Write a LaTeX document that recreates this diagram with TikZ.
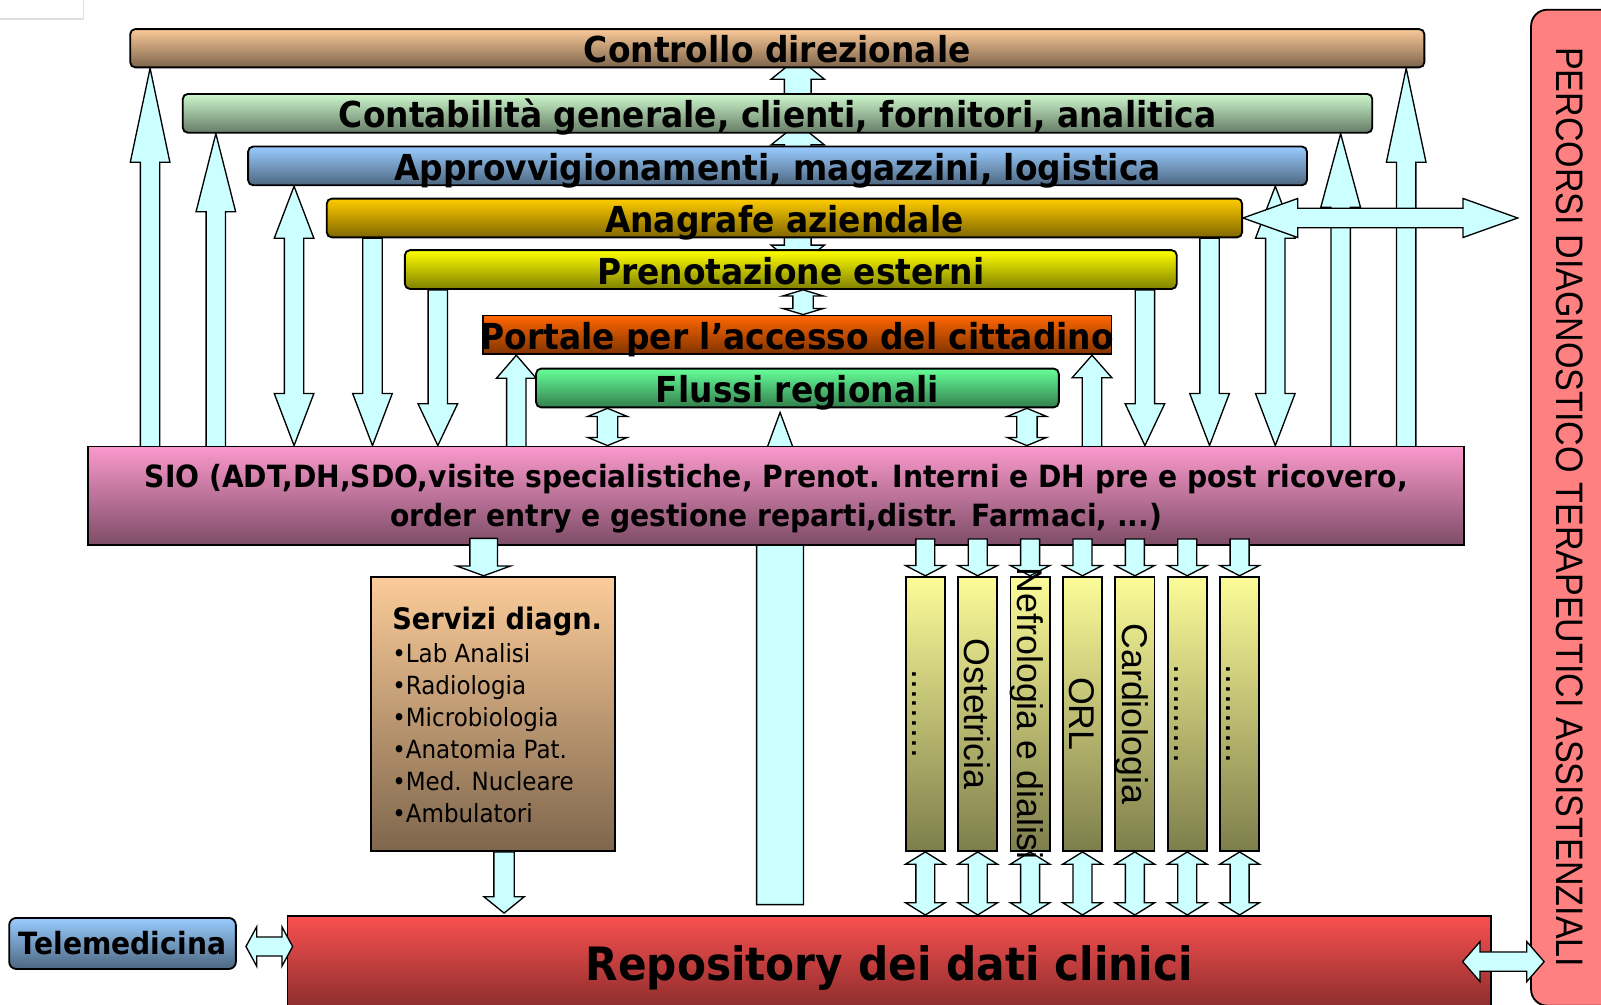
\documentclass[tikz,border=0pt]{standalone}
\usepackage{fontspec}
\usetikzlibrary{calc}
\newfontfamily\dvs[FakeStretch=0.92]{DejaVu Sans}
\newfontfamily\arl{Liberation Sans}
\newfontfamily\arlc[FakeStretch=0.89]{Liberation Sans}
\newcommand\fsz[1]{\fontsize{#1}{#1}\selectfont}

\definecolor{cCtrl}{RGB}{250,201,152}
\definecolor{cConta}{RGB}{204,247,204}
\definecolor{cAppr}{RGB}{153,204,255}
\definecolor{cAnag}{RGB}{255,204,0}
\definecolor{cPren}{RGB}{255,255,0}
\definecolor{cPort}{RGB}{255,102,0}
\definecolor{cFluss}{RGB}{102,255,153}
\definecolor{cSio}{RGB}{250,153,204}
\definecolor{cServ}{RGB}{252,204,153}
\definecolor{cStrip}{RGB}{252,252,153}
\definecolor{cRepo}{RGB}{250,80,80}
\definecolor{cTele}{RGB}{153,204,255}
\definecolor{cPerc}{RGB}{255,128,128}
\definecolor{cArr}{RGB}{204,255,255}

\pgfdeclarelayer{background}
\pgfsetlayers{background,main}

% block arrow with one head: tail, tip, shaft half-width, head half-width, head length
\newcommand\onearrow[5]{%
  \draw[blockarrow] let \p1=(#1), \p2=(#2),
    \n1={veclen(\x2-\x1,\y2-\y1)}, \n2={atan2(\y2-\y1,\x2-\x1)} in
    {[shift={(\p1)}, rotate=\n2]
      (0,-#3) -- ({\n1-#5},-#3) -- ({\n1-#5},-#4) -- (\n1,0) --
      ({\n1-#5},#4) -- ({\n1-#5},#3) -- (0,#3) -- cycle};}
% block arrow with a head at both ends
\newcommand\twoarrow[5]{%
  \draw[blockarrow] let \p1=(#1), \p2=(#2),
    \n1={veclen(\x2-\x1,\y2-\y1)}, \n2={atan2(\y2-\y1,\x2-\x1)} in
    {[shift={(\p1)}, rotate=\n2]
      (0,0) -- (#5,#4) -- (#5,#3) -- ({\n1-#5},#3) -- ({\n1-#5},#4) -- (\n1,0) --
      ({\n1-#5},-#4) -- ({\n1-#5},-#3) -- (#5,-#3) -- (#5,-#4) -- cycle};}

\begin{document}
\begin{tikzpicture}[x=1pt,y=-1pt,
  grad/.style={top color=#1, bottom color=#1!50!black},
  box/.style={draw=black, line width=1.8pt, inner sep=0pt},
  bar/.style={box, rounded corners=5pt, minimum height=38pt,
    text height=28.5pt, text depth=0pt, font=\dvs\bfseries\fsz{35}},
  strip/.style={box, grad=cStrip, minimum width=38.5pt, minimum height=268.7pt},
  striptext/.style={rotate=-90, inner sep=0pt, font=\arl\fsz{35},
    text height=25pt, text depth=0pt},
  blockarrow/.style={draw=black, fill=cArr, line width=1.3pt, line join=miter}]

\useasboundingbox (0,0) rectangle (1568,984);
\clip (0,0) rectangle (1568,984);

\draw[black!12, line width=1.2pt] (0,18.6) -- (81.6,18.6) -- (81.6,0);

% side band
\node[box, rounded corners=16pt, fill=cPerc, minimum width=120.5pt,
  minimum height=975.5pt] (perc) at (1559.75,497.25) {};

% stacked application bars
\node[bar, grad=cCtrl, minimum width=1267.5pt, minimum height=37.5pt] (ctrl)
  at (761.25,47.25) {Controllo direzionale};
\node[bar, grad=cConta, minimum width=1165pt] (conta)
  at (761.5,111) {Contabilità generale, clienti, fornitori, analitica};
\node[bar, grad=cAppr, minimum width=1037pt] (appr)
  at (761.5,162.5) {Approvvigionamenti, magazzini, logistica};
\node[bar, grad=cAnag, minimum width=896.5pt] (anag)
  at (768.25,213.5) {Anagrafe aziendale};
\node[bar, grad=cPren, minimum width=756pt] (pren)
  at (774.5,264) {Prenotazione esterni};
\node[bar, rounded corners=0pt, grad=cPort, minimum width=615.5pt] (port)
  at (780.75,328) {\makebox[0pt]{Portale per l’accesso del cittadino}};
\node[bar, grad=cFluss, minimum width=512pt] (fluss)
  at (781,380) {Flussi regionali};

\node[box, grad=cSio, minimum width=1347.5pt, minimum height=96.7pt] (sio)
  at (760.25,485.65) {};
\node[anchor=base, inner sep=0pt, font=\dvs\bfseries] (siotext)
  at ($(sio.north)+(0,41.3)$)
  {\fontsize{30}{37.8}\selectfont\begin{tabular}[t]{@{}c@{}}
   SIO (ADT,DH,SDO,visite specialistiche, Prenot. Interni e DH pre e post ricovero,\\
   order entry e gestione reparti,distr. Farmaci, ...)\end{tabular}};

\begin{pgfonlayer}{background}
  % links running behind the bars
  \onearrow{conta.center -| 781.3,0}{$(ctrl.south -| 781.3,0)+(0,-10.3)$}{13.1}{26.1}{21}
  \onearrow{appr.center -| 781.3,0}{$(conta.south -| 781.3,0)+(0,-10)$}{13.1}{26.1}{21}
  \onearrow{anag.center -| 781.3,0}{$(pren.north -| 781.3,0)+(0,17)$}{13.1}{26.1}{21}
  \twoarrow{pren.south -| 786.5,0}{port.north -| 786.5,0}{10}{20}{6}
  % tall arrow rising behind the SIO block
  \coordinate (bigtail) at (764,886);
  \onearrow{bigtail}{$(fluss.south -| bigtail)+(0,4)$}{23}{36}{98}
  % links between SIO and the bars
  \onearrow{$(sio.north -| 147,0)+(0,6)$}{ctrl.south -| 147,0}{9.5}{19.4}{92}
  \onearrow{$(sio.north -| 211.4,0)+(0,6)$}{conta.south -| 211.4,0}{9.5}{19.4}{76.5}
  \twoarrow{appr.south -| 288,0}{sio.north -| 288,0}{9.5}{19.4}{51}
  \onearrow{anag.south -| 364.8,0}{sio.north -| 364.8,0}{9.5}{19.4}{51}
  \onearrow{pren.south -| 428.8,0}{sio.north -| 428.8,0}{9.5}{19.4}{41}
  \onearrow{$(sio.north -| 505.7,0)+(0,6)$}{port.south -| 505.7,0}{9.5}{19.4}{22.5}
  \twoarrow{fluss.south -| 595,0}{sio.north -| 595,0}{10}{19.4}{8}
  \twoarrow{fluss.south -| 1005.7,0}{sio.north -| 1005.7,0}{10}{19.4}{8}
  \onearrow{$(sio.north -| 1069.5,0)+(0,6)$}{port.south -| 1069.5,0}{9.5}{19.4}{22}
  \onearrow{pren.south -| 1121.3,0}{sio.north -| 1121.3,0}{9.5}{19.4}{41}
  \onearrow{anag.south -| 1184.6,0}{sio.north -| 1184.6,0}{9.5}{19.4}{51}
  \twoarrow{appr.south -| 1249,0}{sio.north -| 1249,0}{9.5}{19.4}{51}
  \onearrow{$(sio.north -| 1313,0)+(0,6)$}{conta.south -| 1313,0}{9.5}{19.4}{72}
  \onearrow{$(sio.north -| 1377.2,0)+(0,6)$}{ctrl.south -| 1377.2,0}{9.5}{19.4}{92}
\end{pgfonlayer}

% exchange with the side band
\twoarrow{anag.east}{1486.4,213.5}{9.5}{19.1}{53.5}

% diagnostic services
\node[box, grad=cServ, minimum width=238.9pt, minimum height=268.7pt] (serv)
  at (482.75,699.15) {};
\node[anchor=base west, inner sep=0pt, font=\dvs] (servtext) at (384,616.2)
  {\fontsize{24.5}{31.24}\selectfont\begin{tabular}[t]{@{}l@{}}
   {\bfseries\fontsize{29}{31.24}\selectfont Servizi diagn.}\\[1.86pt]
   •Lab Analisi\\ •Radiologia\\ •Microbiologia\\ •Anatomia Pat.\\
   •Med. Nucleare\\ •Ambulatori\end{tabular}};

% clinical repository and telemedicine
\node[box, grad=cRepo, minimum width=1178.5pt, minimum height=103pt,
  text height=33pt, text depth=10pt, font=\dvs\bfseries\fsz{45}] (repo)
  at (870.75,948.5) {Repository dei dati clinici};
\node[box, rounded corners=7pt, grad=cTele, minimum width=222pt, minimum height=50pt,
  text height=22pt, text depth=0pt, font=\dvs\bfseries\fsz{30}] (tele)
  at (120,924) {Telemedicina};

% ward strips
\foreach \i in {1,...,7}{
  \node[strip] (s\i) at ({906.25+51.3*(\i-1)},699.15) {};
}
\foreach \i in {1,...,7}{
  \onearrow{$(sio.south -| s\i.north)+(0,-7)$}{s\i.north}{9.3}{19.3}{10}
  \twoarrow{s\i.south}{repo.north -| s\i.south}{9.3}{19.4}{12}
}
\node[striptext] (t1) at (s1) {.........};
\node[striptext] (t2) at (s2) {Ostetricia};
\node[striptext] (t3) at (s3) {Nefrologia e dialisi};
\node[striptext] (t4) at (s4) {ORL};
\node[striptext] (t5) at (s5) {Cardiologia};
\node[striptext] (t6) at (s6) {..........};
\node[striptext] (t7) at (s7) {..........};

% arrows around the diagnostic services
\onearrow{$(sio.south -| 473.7,0)+(0,-7.6)$}{serv.north -| 473.7,0}{13.5}{26.2}{9.5}
\onearrow{serv.south -| 493.7,0}{$(repo.north -| 493.7,0)+(0,-1.8)$}{10}{19.7}{16}
\twoarrow{$(tele.east)+(9,3)$}{$(repo.west |- tele.east)+(6,3)$}{9.3}{19.3}{10.5}
\twoarrow{$(repo.east |- 0,941.8)+(-28.4,0)$}{$(perc.west |- 0,941.8)+(13.7,0)$}{9.5}{19.6}{17}

\node[rotate=-90, inner sep=0pt, font=\arlc\fsz{37.5}, text height=26.9pt,
  text depth=0pt] (perctext) at (1537.5,496.7)
  {PERCORSI DIAGNOSTICO TERAPEUTICI ASSISTENZIALI};
\end{tikzpicture}
\end{document}
